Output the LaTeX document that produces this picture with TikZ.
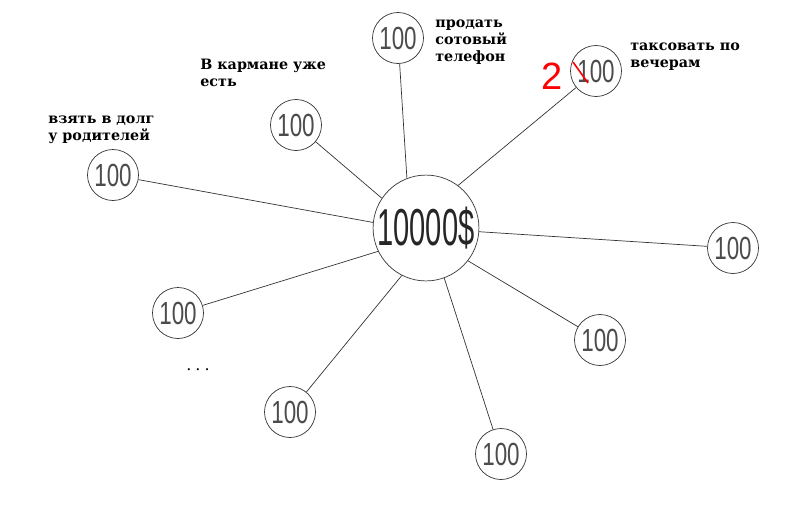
\documentclass[tikz,border=0pt]{standalone}
\usepackage{fontspec}
\setmainfont{DejaVu Serif}
\newfontfamily\digitfont{Liberation Sans}
\usetikzlibrary{calc}
\tikzset{
  coin/.style={draw=black!80, shape=circle, minimum size=51pt, inner sep=0pt, text=black!70,
    font=\digitfont\fontsize{32}{32}\selectfont},
  pot/.style={draw=black!80, shape=circle, minimum size=103pt, inner sep=0pt, text=black!85,
    font=\digitfont\fontsize{52}{52}\selectfont},
  note/.style={anchor=base west, align=left, inner sep=0pt,
    font=\bfseries\fontsize{14.3}{17}\selectfont},
}
\newcommand{\hundred}{\scalebox{0.7}[1]{100}}
\begin{document}
\begin{tikzpicture}[x=1pt, y=-1pt, line width=0.7pt]
  \useasboundingbox (0,0) rectangle (790,514);
  \node[pot] (S) at (426,228) {\scalebox{0.56}[1]{10000\$}};
  \node[coin] (SA) at (398,38) {\hundred};
  \node[coin] (SB) at (596,71) {\hundred};
  \node[coin] (SC) at (296,125) {\hundred};
  \node[coin] (SD) at (113,175) {\hundred};
  \node[coin] (SE) at (733,248) {\hundred};
  \node[coin] (SF) at (600,340) {\hundred};
  \node[coin] (SG) at (178,313) {\hundred};
  \node[coin] (SH) at (290,412) {\hundred};
  \node[coin] (SI) at (501,454) {\hundred};

  \draw[black!80] (SA)--(S.111);
  \draw[black!80] (SB)--(S.53);
  \draw[black!80] (SC)--(S.146);
  \draw[black!80] (SD)--(S.174);
  \draw[black!80] (SE)--(S.-4);
  \draw[black!80] (SF)--(S.-38);
  \draw[black!80] (SG)--(S.-154);
  \draw[black!80] (SH)--(S.-117);
  \draw[black!80] (SI)--(S.-70);

  % anchor is the baseline of the last line
  \node[note] (TA) at (435,61) {продать\\сотовый\\телефон};
  \node[note] (TB) at (630,67) {таксовать по\\вечерам};
  \node[note] (TC) at (200,86) {В кармане уже\\есть};
  \node[note] (TD) at (48,140) {взять в долг\\у родителей};
  \node[font=\fontsize{16}{16}\selectfont, inner sep=0pt] (TE) at (198,370) {.\hspace{4pt}.\hspace{4pt}.};

  % red correction
  \node[text=red, font=\digitfont\fontsize{38}{38}\selectfont] (TF) at (552,76) {2};
  \draw[red, line width=1.6pt] ($(SB)+(-23,-9)$) -- ($(SB)+(-8,12)$);
\end{tikzpicture}
\end{document}
